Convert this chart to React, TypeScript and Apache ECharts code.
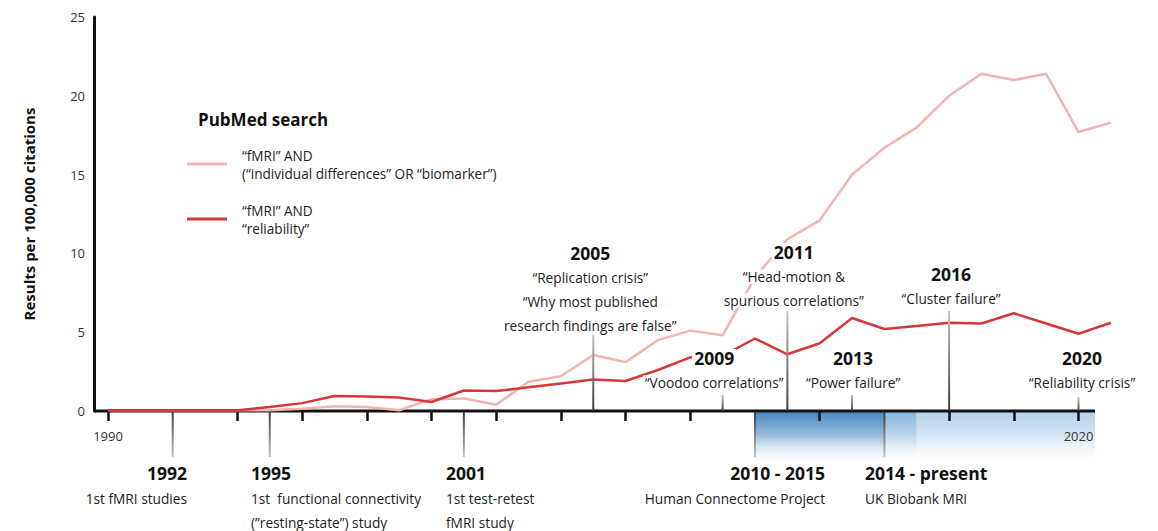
import React, { useEffect, useRef } from "react";
import * as echarts from "echarts";

// ---------- data ----------
const years = [
  1990, 1991, 1992, 1993, 1994, 1995, 1996, 1997, 1998, 1999, 2000, 2001, 2002, 2003, 2004, 2005,
  2006, 2007, 2008, 2009, 2010, 2011, 2012, 2013, 2014, 2015, 2016, 2017, 2018, 2019, 2020, 2021,
];
const individualDiffValues = [
  0.05, 0.05, 0.05, 0.05, 0.05, 0.05, 0.15, 0.3, 0.25, 0.05, 0.75, 0.8, 0.4, 1.85, 2.2, 3.55,
  3.1, 4.5, 5.1, 4.8, 8.5, 10.9, 12.1, 15.0, 16.7, 18.0, 20.0, 21.4, 21.0, 21.4, 17.7, 18.3,
];
const reliabilityValues = [
  0.05, 0.05, 0.05, 0.05, 0.05, 0.25, 0.5, 0.95, 0.92, 0.85, 0.57, 1.3, 1.27, 1.5, 1.75, 2.0,
  1.9, 2.6, 3.4, 3.5, 4.6, 3.6, 4.3, 5.9, 5.2, 5.4, 5.6, 5.55, 6.2, 5.55, 4.9, 5.6,
];
const seriesNames = [
  "“fMRI” AND\n(“individual differences” OR “biomarker”)",
  "“fMRI” AND\n“reliability”",
];
const legendTitle = "PubMed search";
const yAxisTitle = "Results per 100,000 citations";
const xTickYears = [1990, 1994, 1996, 1998, 2000, 2002, 2004, 2006, 2008, 2012, 2016, 2018, 2020];
const xLabelYears = [1990, 2020];

const topEventYears = [2005, 2011, 2016, 2009, 2013, 2020];
const topEventTitles = ["2005", "2011", "2016", "2009", "2013", "2020"];
const topEventNotes = [
  ["“Replication crisis”", "“Why most published", "research findings are false”"],
  ["“Head-motion &", "spurious correlations”"],
  ["“Cluster failure”"],
  ["“Voodoo correlations”"],
  ["“Power failure”"],
  ["“Reliability crisis”"],
];
const bottomEventYears = [1992, 1995, 2001, 2010, 2014];
const bottomEventTitles = ["1992", "1995", "2001", "2010 - 2015", "2014 - present"];
const bottomEventNotes = [
  ["1st fMRI studies"],
  ["1st  functional connectivity", "(”resting-state”) study"],
  ["1st test-retest", "fMRI study"],
  ["Human Connectome Project"],
  ["UK Biobank MRI"],
];
const AXIS_END = 2020.51;
const periodStarts = [2010, 2014, 2015];
const periodEnds = [2014, 2015, AXIS_END];

// ---------- layout / style ----------
const FONT = '"Open Sans", "Noto Sans", sans-serif';
const X_MIN = 1989.567;
const X_MAX = 2021;
const PX_PER_YEAR = 32.35;
const periodColors = ["#4a89c2", "#86b5dc", "#b3d2ea"];
const periodMid = ["rgba(74,137,194,0.55)", "rgba(134,181,220,0.55)", "rgba(179,210,234,0.55)"];

const topLayout: Record<number, { dx: number; len: number; titleDy: number }> = {
  2005: { dx: -3, len: 76, titleDy: -158 },
  2011: { dx: 6.5, len: 100, titleDy: -159 },
  2016: { dx: 2, len: 100, titleDy: -137 },
  2009: { dx: -8.5, len: 16, titleDy: -53 },
  2013: { dx: 1, len: 16, titleDy: -53 },
  2020: { dx: 3.5, len: 14, titleDy: -53 },
};
const bottomLayout: Record<number, { dx: number; align: string }> = {
  1992: { dx: 16.3, align: "right" },
  1995: { dx: -20.75, align: "left" },
  2001: { dx: -19.85, align: "left" },
  2010: { dx: 72, align: "right" },
  2014: { dx: -21.4, align: "left" },
};

function lineGrad(up: boolean) {
  return new echarts.graphic.LinearGradient(0, up ? 1 : 0, 0, up ? 0 : 1, [
    { offset: 0, color: "#3c3c3c" },
    { offset: 1, color: "#c4c4c4" },
  ]);
}

function textEl(x: number, y: number, text: string, bold: boolean, align: string) {
  return {
    type: "text",
    x,
    y,
    style: {
      text,
      fill: bold ? "#111" : "#222",
      font: bold ? `bold 17.5px ${FONT}` : `13.7px ${FONT}`,
      align,
      verticalAlign: "middle",
      backgroundColor: "#ffffff",
      padding: [0, 2],
    },
  };
}

function renderTopEvent(params: any, api: any) {
  const i = params.dataIndex;
  const year = topEventYears[i];
  const lay = topLayout[year];
  const [x, y0] = api.coord([year, 0]);
  const children: any[] = [
    {
      type: "rect",
      shape: { x: x - 1, y: y0 - lay.len, width: 2, height: lay.len },
      style: { fill: lineGrad(true) },
    },
  ];
  const cx = x + lay.dx;
  children.push(textEl(cx, y0 + lay.titleDy, topEventTitles[i], true, "center"));
  topEventNotes[i].forEach((t, k) => {
    children.push(textEl(cx, y0 + lay.titleDy + 24.5 + k * 24, t, false, "center"));
  });
  return { type: "group", children };
}

function renderBottomEvent(params: any, api: any) {
  const i = params.dataIndex;
  const year = bottomEventYears[i];
  const lay = bottomLayout[year];
  const [x, y0] = api.coord([year, 0]);
  const children: any[] = [
    {
      type: "rect",
      shape: { x: x - 1, y: y0 + 1, width: 2, height: 45 },
      style: { fill: lineGrad(false) },
    },
  ];
  const tx = x + lay.dx;
  children.push(textEl(tx, y0 + 62, bottomEventTitles[i], true, lay.align));
  bottomEventNotes[i].forEach((t, k) => {
    children.push(textEl(tx, y0 + 87 + k * 24, t, false, lay.align));
  });
  return { type: "group", children };
}

function renderPeriod(params: any, api: any) {
  const i = params.dataIndex;
  const [x0, y0] = api.coord([periodStarts[i], 0]);
  const [x1] = api.coord([periodEnds[i], 0]);
  return {
    type: "rect",
    shape: { x: x0, y: y0 + 1, width: x1 - x0, height: 54 },
    style: {
      fill: new echarts.graphic.LinearGradient(0, 0, 0, 1, [
        { offset: 0, color: periodColors[i] },
        { offset: 0.45, color: periodMid[i] },
        { offset: 1, color: "rgba(255,255,255,0)" },
      ]),
    },
  };
}

function renderBaseline(params: any, api: any) {
  const [x0, y0] = api.coord([X_MIN, 0]);
  const [x1] = api.coord([AXIS_END, 0]);
  return {
    type: "line",
    shape: { x1: x0, y1: y0, x2: x1, y2: y0 },
    style: { stroke: "#111", lineWidth: 3 },
  };
}

export default function App() {
  const ref = useRef<HTMLDivElement>(null);
  useEffect(() => {
    const chart = echarts.init(ref.current!, null, { renderer: "svg" });
    const gridWidth = (X_MAX - X_MIN) * PX_PER_YEAR;
    const option: any = {
      animation: false,
      backgroundColor: "#ffffff",
      grid: { left: 94, top: 17, width: gridWidth, height: 394, containLabel: false, outerBoundsMode: "none" },
      xAxis: {
        type: "value",
        min: X_MIN,
        max: X_MAX,
        splitLine: { show: false },
        axisLine: { show: false },
        axisTick: {
          show: true,
          customValues: xTickYears,
          length: 10,
          lineStyle: { color: "#111", width: 2.5 },
        },
        axisLabel: {
          customValues: xLabelYears,
          margin: 18,
          fontSize: 13,
          color: "#333",
          fontFamily: FONT,
          formatter: (v: number) => String(Math.round(v)),
        },
      },
      yAxis: {
        type: "value",
        min: 0,
        max: 25,
        interval: 5,
        splitLine: { show: false },
        axisTick: { show: false },
        axisLine: { show: true, lineStyle: { color: "#111", width: 3 } },
        axisLabel: { fontSize: 13, color: "#333", fontFamily: FONT, margin: 9 },
        name: yAxisTitle,
        nameLocation: "middle",
        nameRotate: 90,
        nameGap: 58,
        nameTextStyle: { fontFamily: FONT, fontSize: 15, fontWeight: "bold", color: "#111" },
      },
      legend: {
        left: 187,
        top: 146,
        orient: "vertical",
        padding: 0,
        itemWidth: 40,
        itemHeight: 3,
        itemGap: 19,
        icon: "rect",
        data: seriesNames,
        textStyle: { fontFamily: FONT, fontSize: 13.6, color: "#222", lineHeight: 18, padding: [0, 0, 0, 10] },
      },
      graphic: [
        {
          type: "text",
          left: 198,
          top: 111,
          style: { text: legendTitle, font: `bold 17px ${FONT}`, fill: "#111" },
        },
      ],
      series: [
        {
          type: "custom",
          name: "periods",
          z: -1,
          silent: true,
          renderItem: renderPeriod,
          data: periodStarts.map((s, i) => [s, 0, periodEnds[i]]),
          encode: { x: 0, y: 1 },
        },
        {
          type: "custom",
          name: "baseline",
          z: 1,
          silent: true,
          clip: false,
          renderItem: renderBaseline,
          data: [[X_MIN, 0]],
          encode: { x: 0, y: 1 },
        },
        {
          type: "line",
          name: seriesNames[0],
          data: years.map((y, i) => [y, individualDiffValues[i]]),
          showSymbol: false,
          symbol: "none",
          clip: false,
          color: "#f4b3b3",
          lineStyle: { color: "#f4b3b3", width: 2.5 },
          z: 2,
        },
        {
          type: "line",
          name: seriesNames[1],
          data: years.map((y, i) => [y, reliabilityValues[i]]),
          showSymbol: false,
          symbol: "none",
          clip: false,
          color: "#d7373b",
          lineStyle: { color: "#d7373b", width: 2.5 },
          z: 3,
        },
        {
          type: "custom",
          name: "topEvents",
          z: 5,
          silent: true,
          clip: false,
          renderItem: renderTopEvent,
          data: topEventYears.map((y) => [y, 0]),
          encode: { x: 0, y: 1 },
        },
        {
          type: "custom",
          name: "bottomEvents",
          z: 5,
          silent: true,
          clip: false,
          renderItem: renderBottomEvent,
          data: bottomEventYears.map((y) => [y, 0]),
          encode: { x: 0, y: 1 },
        },
      ],
    };
    chart.setOption(option);
    return () => chart.dispose();
  }, []);
  return (
    <div
      ref={ref}
      style={{ position: "fixed", left: 0, top: 0, width: 1158, height: 531, background: "#fff" }}
    />
  );
}
